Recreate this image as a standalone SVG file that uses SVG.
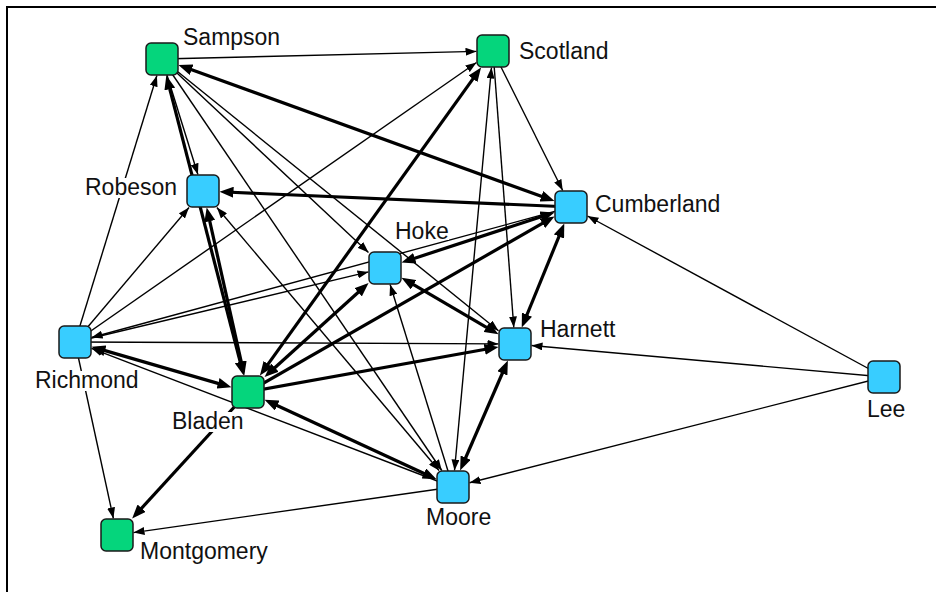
<svg xmlns="http://www.w3.org/2000/svg" width="936" height="592" viewBox="0 0 936 592">
<style>
.t{fill:none;stroke:#000;stroke-width:1.4}
.k{fill:none;stroke:#000;stroke-width:3.2}
.g{fill:#05D57C;stroke:#1a1a1a;stroke-width:1.5}
.b{fill:#38CDFF;stroke:#1a1a1a;stroke-width:1.5}
.lb{fill:#fff;stroke:none}
text{font-family:"Liberation Sans",Arial,sans-serif;font-size:23px;fill:#111}
</style>
<defs>
<marker id="at" markerUnits="userSpaceOnUse" viewBox="0 0 11 8" markerWidth="11" markerHeight="8" refX="11" refY="4" orient="auto-start-reverse"><path d="M0,0 L11,4 L0,8 z" fill="#000"/></marker>
<marker id="ak" markerUnits="userSpaceOnUse" viewBox="0 0 14 11" markerWidth="14" markerHeight="11" refX="8" refY="5.5" orient="auto-start-reverse"><path d="M0,0 L14,5.5 L0,11 z" fill="#000"/></marker>
</defs>
<rect width="936" height="592" fill="#fff"/>
<path d="M7,592 V7 H936" fill="none" stroke="#000" stroke-width="2"/>
<g id="connectors">
<path class="t" d="M162,59 L476.5,51.4" marker-end="url(#at)"/>
<path class="k" d="M184.1,67 L548.9,199" marker-start="url(#ak)" marker-end="url(#ak)"/>
<path class="t" d="M162,59 L197.9,174.5" marker-end="url(#at)"/>
<path class="k" d="M167.8,81.3 L242.2,369.7" marker-start="url(#ak)" marker-end="url(#ak)"/>
<path class="t" d="M162,59 L368.5,252.5" marker-end="url(#at)"/>
<path class="t" d="M162,59 L498.5,330.7" marker-end="url(#at)"/>
<path class="t" d="M162,59 L441.8,470.5" marker-end="url(#at)"/>
<path class="t" d="M75,342 L156.9,75.5" marker-end="url(#at)"/>
<path class="t" d="M75,342 L189,207.5" marker-end="url(#at)"/>
<path class="t" d="M75,342 L476.5,62.5" marker-end="url(#at)"/>
<path class="t" d="M75,342 L368.5,271.9" marker-end="url(#at)"/>
<path class="t" d="M571,207 L91.5,337.5" marker-end="url(#at)"/>
<path class="t" d="M75,342 L498.5,343.9" marker-end="url(#at)"/>
<path class="k" d="M97.3,348.4 L225.7,385.6" marker-start="url(#ak)" marker-end="url(#ak)"/>
<path class="t" d="M453,487 L91.5,348.3" marker-end="url(#at)"/>
<path class="t" d="M75,342 L113.4,518.5" marker-end="url(#at)"/>
<path class="k" d="M571,207 L225.5,192" marker-end="url(#ak)"/>
<path class="k" d="M208,213.4 L243,369.6" marker-start="url(#ak)" marker-end="url(#ak)"/>
<path class="t" d="M216.9,207.5 L439.1,470.5" marker-start="url(#at)" marker-end="url(#at)"/>
<path class="t" d="M493,51 L562.7,190.5" marker-end="url(#at)"/>
<path class="t" d="M491.5,67.5 L454.5,470.5" marker-start="url(#at)" marker-end="url(#at)"/>
<path class="t" d="M493,51 L513.8,327.5" marker-end="url(#at)"/>
<path class="k" d="M263.4,370.6 L477.6,72.4" marker-start="url(#ak)" marker-end="url(#ak)"/>
<path class="k" d="M407.2,260.7 L548.8,214.3" marker-start="url(#ak)" marker-end="url(#ak)"/>
<path class="k" d="M248,392 L549.3,219.4" marker-end="url(#ak)"/>
<path class="t" d="M884,377 L587.5,216" marker-end="url(#at)"/>
<path class="k" d="M562,229.1 L524,322" marker-start="url(#ak)" marker-end="url(#ak)"/>
<path class="k" d="M269,373 L364.1,287" marker-start="url(#ak)" marker-end="url(#ak)"/>
<path class="k" d="M406.7,280.7 L493.3,331.3" marker-start="url(#ak)" marker-end="url(#ak)"/>
<path class="t" d="M453,487 L390.1,284.5" marker-end="url(#at)"/>
<path class="k" d="M248,392 L492.6,348" marker-end="url(#ak)"/>
<path class="t" d="M884,377 L531.5,345.5" marker-end="url(#at)"/>
<path class="k" d="M505.5,366 L462.5,465" marker-start="url(#ak)" marker-end="url(#ak)"/>
<path class="k" d="M270,402.2 L431.1,476.8" marker-start="url(#ak)" marker-end="url(#ak)"/>
<path class="k" d="M248,392 L136.2,514.1" marker-end="url(#ak)"/>
<path class="t" d="M884,377 L469.5,482.8" marker-end="url(#at)"/>
<path class="t" d="M453,487 L133.5,532.6" marker-end="url(#at)"/>
</g>
<g id="sampson"><rect class="g" x="146" y="43" width="32" height="32" rx="5"/><rect class="lb" x="182" y="28" width="99" height="22"/><text x="183" y="45">Sampson</text></g>
<g id="scotland"><rect class="g" x="477" y="35" width="32" height="32" rx="5"/><rect class="lb" x="518" y="42" width="91" height="20"/><text x="519" y="59">Scotland</text></g>
<g id="robeson"><rect class="b" x="187" y="175" width="32" height="32" rx="5"/><rect class="lb" x="84" y="178" width="94" height="20"/><text x="85" y="195">Robeson</text></g>
<g id="cumberland"><rect class="b" x="555" y="191" width="32" height="32" rx="5"/><rect class="lb" x="594" y="195" width="128" height="20"/><text x="595" y="212">Cumberland</text></g>
<g id="hoke"><rect class="b" x="369" y="252" width="32" height="32" rx="5"/><rect class="lb" x="394" y="222" width="55" height="18"/><text x="395" y="239">Hoke</text></g>
<g id="richmond"><rect class="b" x="59" y="326" width="32" height="32" rx="5"/><rect class="lb" x="34" y="371" width="105" height="20"/><text x="35" y="388">Richmond</text></g>
<g id="harnett"><rect class="b" x="499" y="328" width="32" height="32" rx="5"/><rect class="lb" x="539" y="320" width="78" height="20"/><text x="540" y="337">Harnett</text></g>
<g id="bladen"><rect class="g" x="232" y="376" width="32" height="32" rx="5"/><rect class="lb" x="171" y="412" width="73" height="20"/><text x="172" y="429">Bladen</text></g>
<g id="lee"><rect class="b" x="868" y="361" width="32" height="32" rx="5"/><rect class="lb" x="866" y="400" width="40" height="20"/><text x="867" y="417">Lee</text></g>
<g id="moore"><rect class="b" x="437" y="471" width="32" height="32" rx="5"/><rect class="lb" x="425" y="508" width="66" height="20"/><text x="426" y="525">Moore</text></g>
<g id="montgomery"><rect class="g" x="101" y="519" width="32" height="32" rx="5"/><rect class="lb" x="139" y="542" width="130" height="23"/><text x="140" y="559">Montgomery</text></g>
</svg>
